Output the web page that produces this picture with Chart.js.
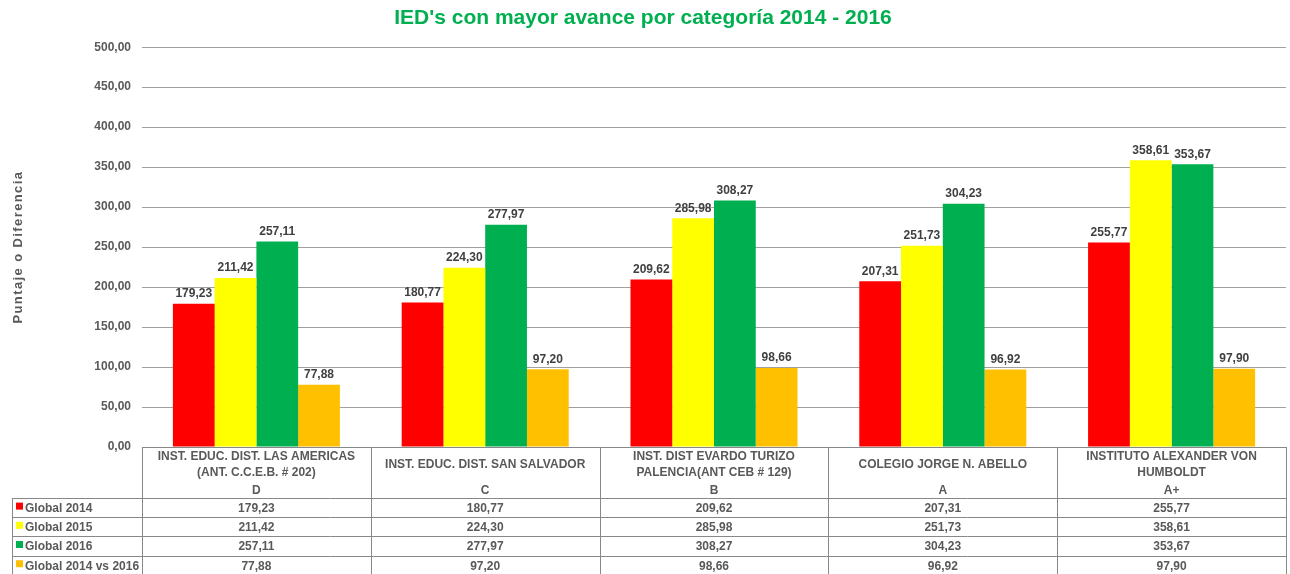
<!DOCTYPE html>
<html>
<head>
<meta charset="utf-8">
<script src="https://cdn.jsdelivr.net/npm/chart.js@4"></script>
<style>
  html, body { margin: 0; padding: 0; background: #ffffff; }
  #wrap { width: 1290px; height: 574px; }
</style>
</head>
<body>
<div id="wrap"><canvas id="chart" width="1290" height="574"></canvas></div>
<script>
// categories (school name lines) and their grade
const schools = [
    ['INST. EDUC. DIST. LAS AMERICAS', '(ANT. C.C.E.B. # 202)'],
    ['INST. EDUC. DIST. SAN SALVADOR'],
    ['INST. DIST EVARDO TURIZO', 'PALENCIA(ANT CEB # 129)'],
    ['COLEGIO JORGE N. ABELLO'],
    ['INSTITUTO ALEXANDER VON', 'HUMBOLDT']
];
const grades = ['D', 'C', 'B', 'A', 'A+'];

const seriesNames = ['Global 2014', 'Global 2015', 'Global 2016', 'Global 2014 vs 2016'];
const global2014 = [179.23, 180.77, 209.62, 207.31, 255.77];
const global2015 = [211.42, 224.30, 285.98, 251.73, 358.61];
const global2016 = [257.11, 277.97, 308.27, 304.23, 353.67];
const global2014vs2016 = [77.88, 97.20, 98.66, 96.92, 97.90];

const yTicks = [0, 50, 100, 150, 200, 250, 300, 350, 400, 450, 500];
const yTitle = 'Puntaje o Diferencia';

const colors = ['#FF0000', '#FFFF00', '#00B050', '#FFC000'];
const textGray = '#595959';
const FONT = '"Liberation Sans", Arial, sans-serif';

function fmt(v) {
    return v.toFixed(2).replace('.', ',');
}

const allSeries = [global2014, global2015, global2016, global2014vs2016];

// value labels above the bars
const barLabels = {
    id: 'barLabels',
    afterDatasetsDraw(chart) {
        const ctx = chart.ctx;
        ctx.save();
        ctx.font = 'bold 12px ' + FONT;
        ctx.fillStyle = '#404040';
        ctx.textAlign = 'center';
        ctx.textBaseline = 'bottom';
        chart.data.datasets.forEach((ds, i) => {
            chart.getDatasetMeta(i).data.forEach((bar, j) => {
                ctx.fillText(fmt(ds.data[j]), bar.x, bar.y - 4);
            });
        });
        ctx.restore();
    }
};

// rotated axis title (spaced out letters like the original)
const axisTitle = {
    id: 'axisTitle',
    afterDraw(chart) {
        const ctx = chart.ctx;
        const area = chart.chartArea;
        ctx.save();
        ctx.translate(18, (area.top + area.bottom) / 2);
        ctx.rotate(-Math.PI / 2);
        ctx.font = 'bold 13px ' + FONT;
        ctx.letterSpacing = '1.4px';
        ctx.fillStyle = textGray;
        ctx.textAlign = 'center';
        ctx.textBaseline = 'middle';
        ctx.fillText(yTitle, 0, 0);
        ctx.restore();
    }
};

// data table under the plot
const dataTable = {
    id: 'dataTable',
    afterDraw(chart) {
        const ctx = chart.ctx;
        const xs = chart.scales.x;
        const area = chart.chartArea;
        const top = area.bottom;
        const headerBottom = top + 51;
        const rowH = 19.2;
        const tableLeft = 12;
        const n = chart.data.labels.length;
        const step = (area.right - area.left) / n;

        ctx.save();
        ctx.strokeStyle = '#888888';
        ctx.lineWidth = 1;

        // horizontal lines
        ctx.beginPath();
        ctx.moveTo(area.left, top + 0.5);
        ctx.lineTo(area.right, top + 0.5);
        for (let r = 0; r <= seriesNames.length; r++) {
            const y = Math.round(headerBottom + r * rowH) + 0.5;
            ctx.moveTo(tableLeft, y);
            ctx.lineTo(area.right, y);
        }
        // vertical lines
        for (let i = 0; i <= n; i++) {
            const x = Math.round(area.left + i * step) + 0.5;
            ctx.moveTo(x, top);
            ctx.lineTo(x, chart.height);
        }
        ctx.moveTo(tableLeft + 0.5, headerBottom);
        ctx.lineTo(tableLeft + 0.5, chart.height);
        ctx.stroke();

        ctx.fillStyle = textGray;
        ctx.font = 'bold 12px ' + FONT;
        ctx.textAlign = 'center';
        ctx.textBaseline = 'middle';

        // header cells
        schools.forEach((lines, i) => {
            const cx = xs.getPixelForValue(i);
            if (lines.length === 1) {
                ctx.fillText(lines[0], cx, top + 18);
            } else {
                lines.forEach((t, k) => ctx.fillText(t, cx, top + 10 + k * 16));
            }
            ctx.fillText(grades[i], cx, top + 44);
        });

        // value rows
        allSeries.forEach((vals, r) => {
            const cy = headerBottom + r * rowH + rowH / 2 + 1;
            vals.forEach((v, i) => {
                ctx.fillText(fmt(v), xs.getPixelForValue(i), cy);
            });
            // legend key
            ctx.fillStyle = colors[r];
            ctx.fillRect(tableLeft + 4, cy - 6, 7, 7);
            ctx.fillStyle = textGray;
            ctx.textAlign = 'left';
            ctx.fillText(seriesNames[r], tableLeft + 13, cy);
            ctx.textAlign = 'center';
        });
        ctx.restore();
    }
};

const ctx = document.getElementById('chart').getContext('2d');
new Chart(ctx, {
    type: 'bar',
    data: {
        labels: grades,
        datasets: allSeries.map((vals, i) => ({
            label: seriesNames[i],
            data: vals,
            backgroundColor: colors[i],
            borderWidth: 0,
            barPercentage: 1.0,
            categoryPercentage: 0.73
        }))
    },
    options: {
        responsive: false,
        animation: false,
        layout: { padding: { left: 0, right: 4, top: 0, bottom: 0 } },
        plugins: {
            legend: { display: false },
            tooltip: { enabled: false },
            title: {
                display: true,
                text: "IED's con mayor avance por categoría 2014 - 2016",
                color: '#00B050',
                font: { family: FONT, size: 21, weight: 'bold' },
                padding: { top: 6, bottom: 16 }
            }
        },
        scales: {
            x: {
                grid: { display: false },
                border: { display: false },
                ticks: { display: false },
                afterFit(scale) { scale.height = 127; }
            },
            y: {
                min: 0,
                max: 500,
                afterBuildTicks(scale) { scale.ticks = yTicks.map(v => ({ value: v })); },
                afterFit(scale) { scale.width = 142; },
                border: { display: false },
                grid: { color: '#a0a0a0', drawTicks: false, lineWidth: 1 },
                ticks: {
                    padding: 11,
                    color: textGray,
                    font: { family: FONT, size: 12, weight: 'bold' },
                    callback: v => fmt(v)
                }
            }
        }
    },
    plugins: [barLabels, axisTitle, dataTable]
});
</script>
</body>
</html>
